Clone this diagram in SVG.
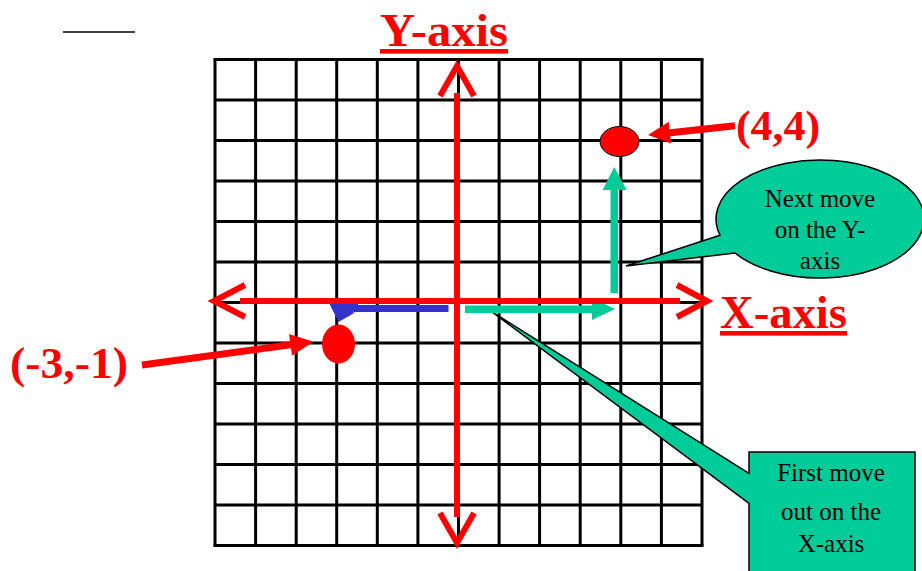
<svg xmlns="http://www.w3.org/2000/svg" width="922" height="571" viewBox="0 0 922 571">
<style>
.grid line{stroke:#000;stroke-width:3}
.axis{stroke:#ff0000;stroke-width:6;fill:none;stroke-linecap:butt}
.chev{stroke:#ff0000;stroke-width:6;fill:none;stroke-linejoin:miter}
.lbl{font-family:"Liberation Serif","Times New Roman",serif;font-weight:bold;fill:#ff0000}
.ct{font-family:"Liberation Serif","Times New Roman",serif;font-size:25px;fill:#000;text-anchor:middle}
.teal{fill:#00cc99}
.call{fill:#00cc99;stroke:#000;stroke-width:1.5}
</style>
<rect width="922" height="571" fill="#fff"/>
<line x1="63" y1="32" x2="135" y2="32" stroke="#000" stroke-width="1.5"/>
<g id="grid" class="grid">
<line x1="215" y1="59.5" x2="215" y2="545.5"/>
<line x1="255.6" y1="59.5" x2="255.6" y2="545.5"/>
<line x1="296.2" y1="59.5" x2="296.2" y2="545.5"/>
<line x1="336.7" y1="59.5" x2="336.7" y2="545.5"/>
<line x1="377.3" y1="59.5" x2="377.3" y2="545.5"/>
<line x1="417.9" y1="59.5" x2="417.9" y2="545.5"/>
<line x1="458.5" y1="59.5" x2="458.5" y2="545.5"/>
<line x1="499.1" y1="59.5" x2="499.1" y2="545.5"/>
<line x1="539.6" y1="59.5" x2="539.6" y2="545.5"/>
<line x1="580.2" y1="59.5" x2="580.2" y2="545.5"/>
<line x1="620.8" y1="59.5" x2="620.8" y2="545.5"/>
<line x1="661.4" y1="59.5" x2="661.4" y2="545.5"/>
<line x1="702" y1="59.5" x2="702" y2="545.5"/>
<line x1="213.5" y1="59.5" x2="703.5" y2="59.5"/>
<line x1="215" y1="100" x2="702" y2="100"/>
<line x1="215" y1="140.5" x2="702" y2="140.5"/>
<line x1="215" y1="181" x2="702" y2="181"/>
<line x1="215" y1="221.5" x2="702" y2="221.5"/>
<line x1="215" y1="262" x2="702" y2="262"/>
<line x1="215" y1="302.5" x2="702" y2="302.5"/>
<line x1="215" y1="343" x2="702" y2="343"/>
<line x1="215" y1="383.5" x2="702" y2="383.5"/>
<line x1="215" y1="424" x2="702" y2="424"/>
<line x1="215" y1="464.5" x2="702" y2="464.5"/>
<line x1="215" y1="505" x2="702" y2="505"/>
<line x1="213.5" y1="545.5" x2="703.5" y2="545.5"/>
</g>
<g id="callout-first">
<path class="call" d="M749,452 H915 V575 H749 V503.3 L491.7,311.7 L749,473.3 Z"/>
<text class="ct" x="831" y="481">First move</text>
<text class="ct" x="831" y="520">out on the</text>
<text class="ct" x="831" y="552">X-axis</text>
</g>
<g id="callout-next">
<path class="call" d="M720,235.2 L626,266 L735,253 A104,59 0 1 0 720,235.2 Z"/>
<text class="ct" x="820" y="207">Next move</text>
<text class="ct" x="820" y="238">on the Y-</text>
<text class="ct" x="820" y="269">axis</text>
</g>
<g id="connectors">
<g id="move-x">
<rect class="teal" x="465" y="305.5" width="128" height="7.5"/>
<polygon class="teal" points="592,298 615,309 592,320"/>
</g>
<g id="move-y">
<rect class="teal" x="610.5" y="189" width="7.5" height="104"/>
<polygon class="teal" points="602.7,190 614.2,167 626.7,190"/>
</g>
<g id="move-blue">
<rect x="354" y="305" width="94.5" height="7" fill="#3333cc"/>
<polygon points="328,301 362,298 353,313 356,312 338.5,322" fill="#3333cc"/>
</g>
<g id="y-axis">
<line class="axis" x1="457" y1="93" x2="457" y2="517"/>
<polyline class="chev" points="440,96 457,66 474,96"/>
<polyline class="chev" points="440,513 457,543 474,513"/>
</g>
<g id="x-axis">
<line class="axis" x1="240" y1="301" x2="680" y2="301"/>
<polyline class="chev" points="245,285 214,301 245,317"/>
<polyline class="chev" points="677,285 707,301 677,317"/>
</g>
<g id="ptr-44">
<line x1="735" y1="125.8" x2="668" y2="132.9" stroke="#ff0000" stroke-width="7"/>
<polygon points="671,143.6 648,135 668.7,121.8" fill="#ff0000"/>
</g>
<g id="ptr-31">
<line x1="142" y1="365" x2="292" y2="344.5" stroke="#ff0000" stroke-width="7"/>
<polygon points="292,355.7 313.3,341.7 289,333.9" fill="#ff0000"/>
</g>
</g>
<g id="point-44">
<ellipse cx="619.5" cy="141.5" rx="19.5" ry="15" fill="#ff0000" stroke="#000" stroke-width="1"/>
</g>
<g id="point-31">
<ellipse cx="338.5" cy="344" rx="16.5" ry="19.5" fill="#ff0000"/>
</g>
<g id="labels">
<text class="lbl" x="380" y="46" font-size="46" text-decoration="underline" textLength="128" lengthAdjust="spacingAndGlyphs">Y-axis</text>
<text class="lbl" x="720" y="328" font-size="46" text-decoration="underline" textLength="127" lengthAdjust="spacingAndGlyphs">X-axis</text>
<text class="lbl" x="736" y="140" font-size="42" textLength="84" lengthAdjust="spacingAndGlyphs">(4,4)</text>
<text class="lbl" x="10" y="378" font-size="44" textLength="118" lengthAdjust="spacingAndGlyphs">(-3,-1)</text>
</g>
</svg>
